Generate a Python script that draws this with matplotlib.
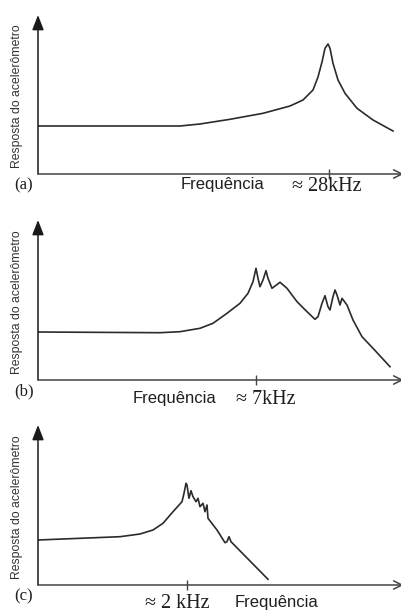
import numpy as np
import matplotlib.pyplot as plt

# curve points (x: frequency, arbitrary units; y: response)
a_freq = [0, 142, 162, 192, 225, 252, 265, 275, 280, 284, 287, 290, 292, 295, 300,
          307, 319, 335, 355]
a_resp = [48, 48, 50, 54.7, 60.7, 68, 74, 84, 97, 112, 125.7, 130, 125.7, 110.7, 94,
          80.7, 65.7, 54, 43]
a_tick = 291

b_freq = [0, 122, 142, 162, 175, 189, 202, 210, 215, 218, 220, 222, 225, 228, 230,
          234, 242, 249, 259, 269, 277, 280, 284, 287, 290, 292, 295, 297, 299, 302,
          304, 309, 315, 324, 335, 352]
b_resp = [48, 47.3, 48.3, 51.7, 56.7, 66.7, 76.7, 86.7, 98.3, 111.7, 101.7, 93.3, 100,
          109.3, 101.7, 91.7, 97.7, 91.7, 78.3, 68.3, 60.7, 63.3, 76.7, 84.3, 73.3, 70,
          83.3, 90, 85, 75, 81.7, 75, 60, 43.3, 31.7, 13.3]
b_tick = 218

c_freq = [0, 82, 102, 115, 125, 135, 144, 146, 148, 149, 151, 153, 155, 158, 160,
          162, 165, 167, 169, 170, 179, 187, 189, 191, 193, 230]
c_resp = [45, 48.3, 51, 55, 61.7, 73.3, 83.3, 91.7, 101.7, 100, 86.7, 94.3, 88.3, 83.3,
          86.7, 78.3, 81.7, 73.3, 80, 66.7, 55, 42.3, 43.3, 48.3, 43.3, 5.7]
c_tick = 149

panels = [
    ('(a)', a_freq, a_resp, a_tick, 15, 174),
    ('(b)', b_freq, b_resp, b_tick, 220, 380),
    ('(c)', c_freq, c_resp, c_tick, 425, 585),
]

W, H = 401, 615
fig = plt.figure(figsize=(W / 100, H / 100), dpi=100)
fig.patch.set_facecolor('white')

sans = 'Liberation Sans'
serif = 'Liberation Serif'
ink = '#1f1f1f'

for label, fx, fy, tick, top, bottom in panels:
    ax = fig.add_axes([38 / W, 1 - bottom / H, 362 / W, (bottom - top) / H])
    ax.plot(fx, fy, color='#2b2b2b', lw=1.2, solid_joinstyle='round')
    ax.set_xlim(0, 362)
    ax.set_ylim(0, bottom - top)
    for s in ax.spines.values():
        s.set_visible(False)
    ax.set_yticks([])
    ax.set_xticks([tick])
    ax.set_xticklabels([])
    ax.tick_params(axis='x', direction='inout', length=7, width=1, color='#444444')
    # axes drawn as arrows
    ax.annotate('', xy=(0, 1), xytext=(0, 0), xycoords='axes fraction',
                arrowprops=dict(arrowstyle='-|>,head_length=0.9,head_width=0.35',
                                color='#1a1a1a', lw=1.1, shrinkA=0, shrinkB=0),
                annotation_clip=False)
    ax.annotate('', xy=(1.01, 0), xytext=(0, 0), xycoords='axes fraction',
                arrowprops=dict(arrowstyle='->,head_length=0.6,head_width=0.3',
                                color='#444444', lw=1.1, shrinkA=0, shrinkB=0),
                annotation_clip=False)
    fig.text(17 / W, 1 - ((top + bottom) / 2 + 2) / H, 'Resposta do acelerômetro',
             rotation=90, ha='center', va='center', fontsize=8.8, family=sans,
             color='#333333')
    fig.text(24 / W, 1 - (bottom + 11) / H, label, ha='center', va='center',
             fontsize=12, family=serif, color=ink)

fig.text(222 / W, 1 - 184 / H, 'Frequência', ha='center', va='center',
         fontsize=12, family=sans, color=ink)
fig.text(327 / W, 1 - 186 / H, '≈ 28kHz', ha='center', va='center',
         fontsize=14.5, family=serif, color=ink)

fig.text(175 / W, 1 - 398 / H, 'Frequência', ha='center', va='center',
         fontsize=12, family=sans, color=ink)
fig.text(266 / W, 1 - 399 / H, '≈ 7kHz', ha='center', va='center',
         fontsize=14.5, family=serif, color=ink)

fig.text(177 / W, 1 - 604 / H, '≈ 2 kHz', ha='center', va='center',
         fontsize=14.5, family=serif, color=ink)
fig.text(277 / W, 1 - 603 / H, 'Frequência', ha='center', va='center',
         fontsize=12, family=sans, color=ink)

fig.savefig('out.png', dpi=100)
